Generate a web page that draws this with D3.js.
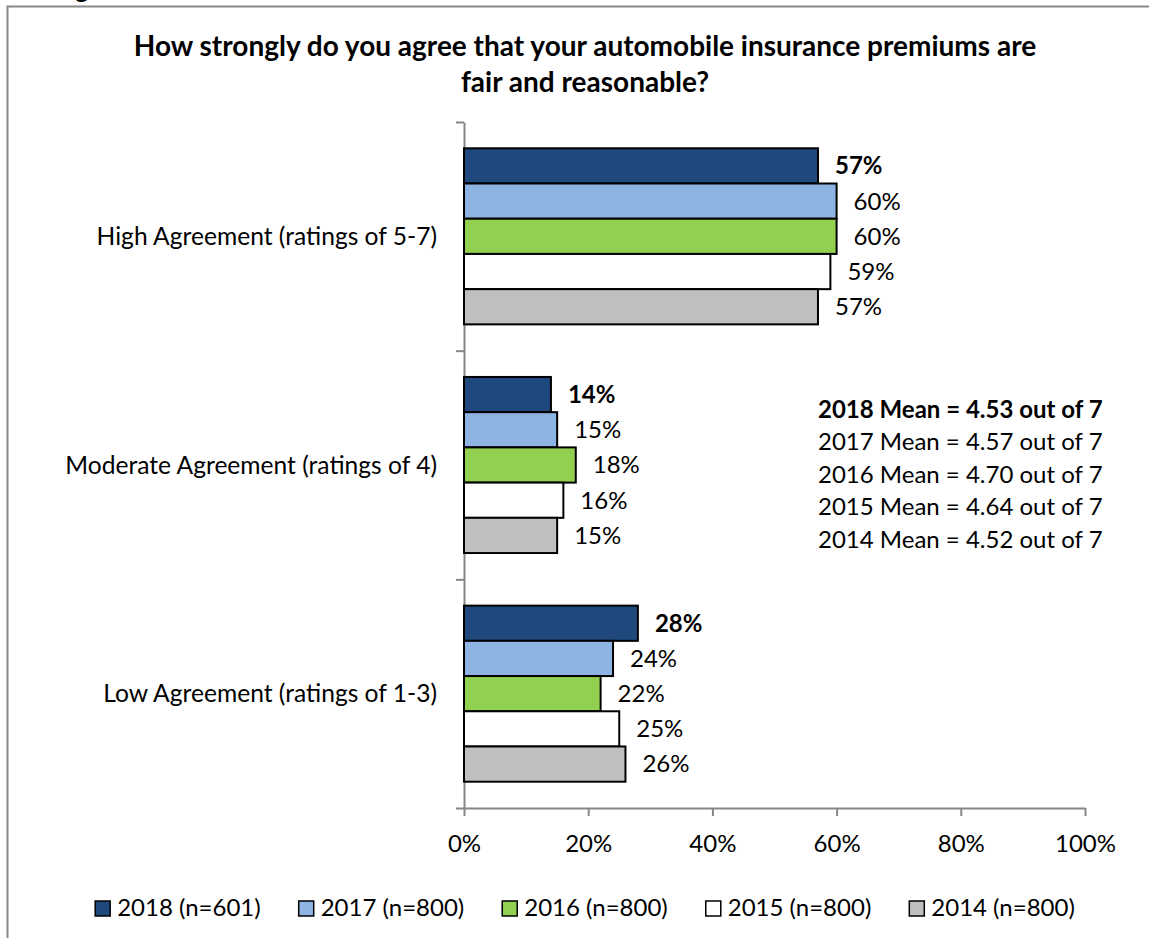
<!DOCTYPE html>
<html>
<head>
<meta charset="utf-8">
<script src="https://cdn.jsdelivr.net/npm/d3@7"></script>
<style>
  html, body { margin: 0; padding: 0; background: #fff; }
  svg { display: block; }
  text { font-family: Lato, "Open Sans", sans-serif; fill: #000; }
</style>
</head>
<body>
<svg id="chart" width="1149" height="938"></svg>
<script>
// Survey question and answer groups
const titleLines = [
  "How strongly do you agree that your automobile insurance premiums are",
  "fair and reasonable?"
];
const categories = [
  "High Agreement (ratings of 5-7)",
  "Moderate Agreement (ratings of 4)",
  "Low Agreement (ratings of 1-3)"
];

// Survey waves (newest first) and their sample sizes
const years = ["2018", "2017", "2016", "2015", "2014"];
const sampleSizes = [601, 800, 800, 800, 800];

// Percent of respondents per group, one value per wave
const highAgreement = [57, 60, 60, 59, 57];
const moderateAgreement = [14, 15, 18, 16, 15];
const lowAgreement = [28, 24, 22, 25, 26];

// Mean rating on the 7-point scale, per wave
const meanScores = [4.53, 4.57, 4.70, 4.64, 4.52];

const xTicks = [0, 20, 40, 60, 80, 100];
const seriesColors = ["#1F497D", "#8EB4E3", "#92D050", "#FFFFFF", "#BFBFBF"];

const groupValues = [highAgreement, moderateAgreement, lowAgreement];
const rows = [];
categories.forEach((cat, ci) => {
  years.forEach((yr, si) => {
    rows.push({ category: cat, year: yr, series: si, value: groupValues[ci][si] });
  });
});

const svg = d3.select("#chart");
const axisGrey = "#868686";
const fontSize = 24;

// Frame around the chart
svg.append("path")
  .attr("d", "M7.5,938 V6.5 H1149")
  .attr("fill", "none")
  .attr("stroke", "#888")
  .attr("stroke-width", 2);

// Heading fragment above the frame
svg.append("text")
  .attr("x", 75).attr("y", -2)
  .attr("font-size", 26).attr("font-weight", "bold")
  .text("g");

// Title
svg.append("g").selectAll("text")
  .data(titleLines)
  .join("text")
  .attr("x", 585)
  .attr("y", (d, i) => 56 + i * 35.5)
  .attr("text-anchor", "middle")
  .attr("font-size", 28)
  .attr("font-weight", "bold")
  .text(d => d);

// Scales
const x = d3.scaleLinear().domain([0, 100]).range([464, 1085]);
const y = d3.scaleBand().domain(categories).range([122, 808])
  .paddingInner(0.23).paddingOuter(0.115);
const inner = d3.scaleBand().domain(years).range([0, y.bandwidth()]);
const color = d3.scaleOrdinal().domain(years).range(seriesColors);

// Category axis: ticks sit between the groups
const boundary = d3.scaleLinear().domain([0, categories.length]).range([122, 808]);
const yAxis = svg.append("g")
  .attr("transform", "translate(464,0)")
  .call(d3.axisLeft(boundary)
    .tickValues(d3.range(categories.length + 1))
    .tickFormat("")
    .tickSize(8)
    .tickSizeOuter(0));
yAxis.selectAll("path, line").attr("stroke", axisGrey).attr("stroke-width", 2);

// Value axis
const xAxis = svg.append("g")
  .attr("transform", "translate(0,808)")
  .call(d3.axisBottom(x)
    .tickValues(xTicks)
    .tickFormat(d => d + "%")
    .tickSize(8)
    .tickSizeOuter(0));
xAxis.selectAll("path, line").attr("stroke", axisGrey).attr("stroke-width", 2);
xAxis.selectAll("text")
  .attr("y", 27)
  .attr("font-size", fontSize)
  .attr("font-family", "Lato, sans-serif")
  .attr("fill", "#000");

// Category labels
svg.append("g").selectAll("text")
  .data(categories)
  .join("text")
  .attr("x", 437)
  .attr("y", d => y(d) + y.bandwidth() / 2)
  .attr("dy", "0.35em")
  .attr("text-anchor", "end")
  .attr("font-size", 24.6)
  .text(d => d);

// Bars
svg.append("g").selectAll("rect")
  .data(rows)
  .join("rect")
  .attr("x", x(0))
  .attr("y", d => y(d.category) + inner(d.year))
  .attr("width", d => x(d.value) - x(0))
  .attr("height", inner.bandwidth())
  .attr("fill", d => color(d.year))
  .attr("stroke", "#000")
  .attr("stroke-width", 2);

// Value labels at the end of each bar
svg.append("g").selectAll("text")
  .data(rows)
  .join("text")
  .attr("x", d => x(d.value) + 17)
  .attr("y", d => y(d.category) + inner(d.year) + inner.bandwidth() / 2)
  .attr("dy", "0.35em")
  .attr("font-size", fontSize)
  .attr("font-weight", d => d.series === 0 ? "bold" : "normal")
  .text(d => d.value + "%");

// Mean scores
svg.append("g").selectAll("text")
  .data(meanScores)
  .join("text")
  .attr("x", 818)
  .attr("y", (d, i) => 418 + i * 32.4)
  .attr("font-size", fontSize)
  .attr("font-weight", (d, i) => i === 0 ? "bold" : "normal")
  .text((d, i) => `${years[i]} Mean = ${d.toFixed(2)} out of 7`);

// Legend
const legend = svg.append("g");
const items = legend.selectAll("g")
  .data(years)
  .join("g");
items.append("rect")
  .attr("width", 15).attr("height", 15)
  .attr("y", 901)
  .attr("fill", d => color(d))
  .attr("stroke", "#000")
  .attr("stroke-width", 1.5);
items.append("text")
  .attr("x", 22)
  .attr("y", 916)
  .attr("font-size", fontSize)
  .text((d, i) => `${d} (n=${sampleSizes[i]})`);

let cursor = 0;
const offsets = [];
items.each(function () {
  const w = d3.select(this).select("text").node().getComputedTextLength();
  offsets.push(cursor);
  cursor += 22 + w + 38;
});
const legendWidth = cursor - 38;
const legendStart = 585 - legendWidth / 2;
items.attr("transform", (d, i) => `translate(${legendStart + offsets[i]},0)`);
</script>
</body>
</html>
